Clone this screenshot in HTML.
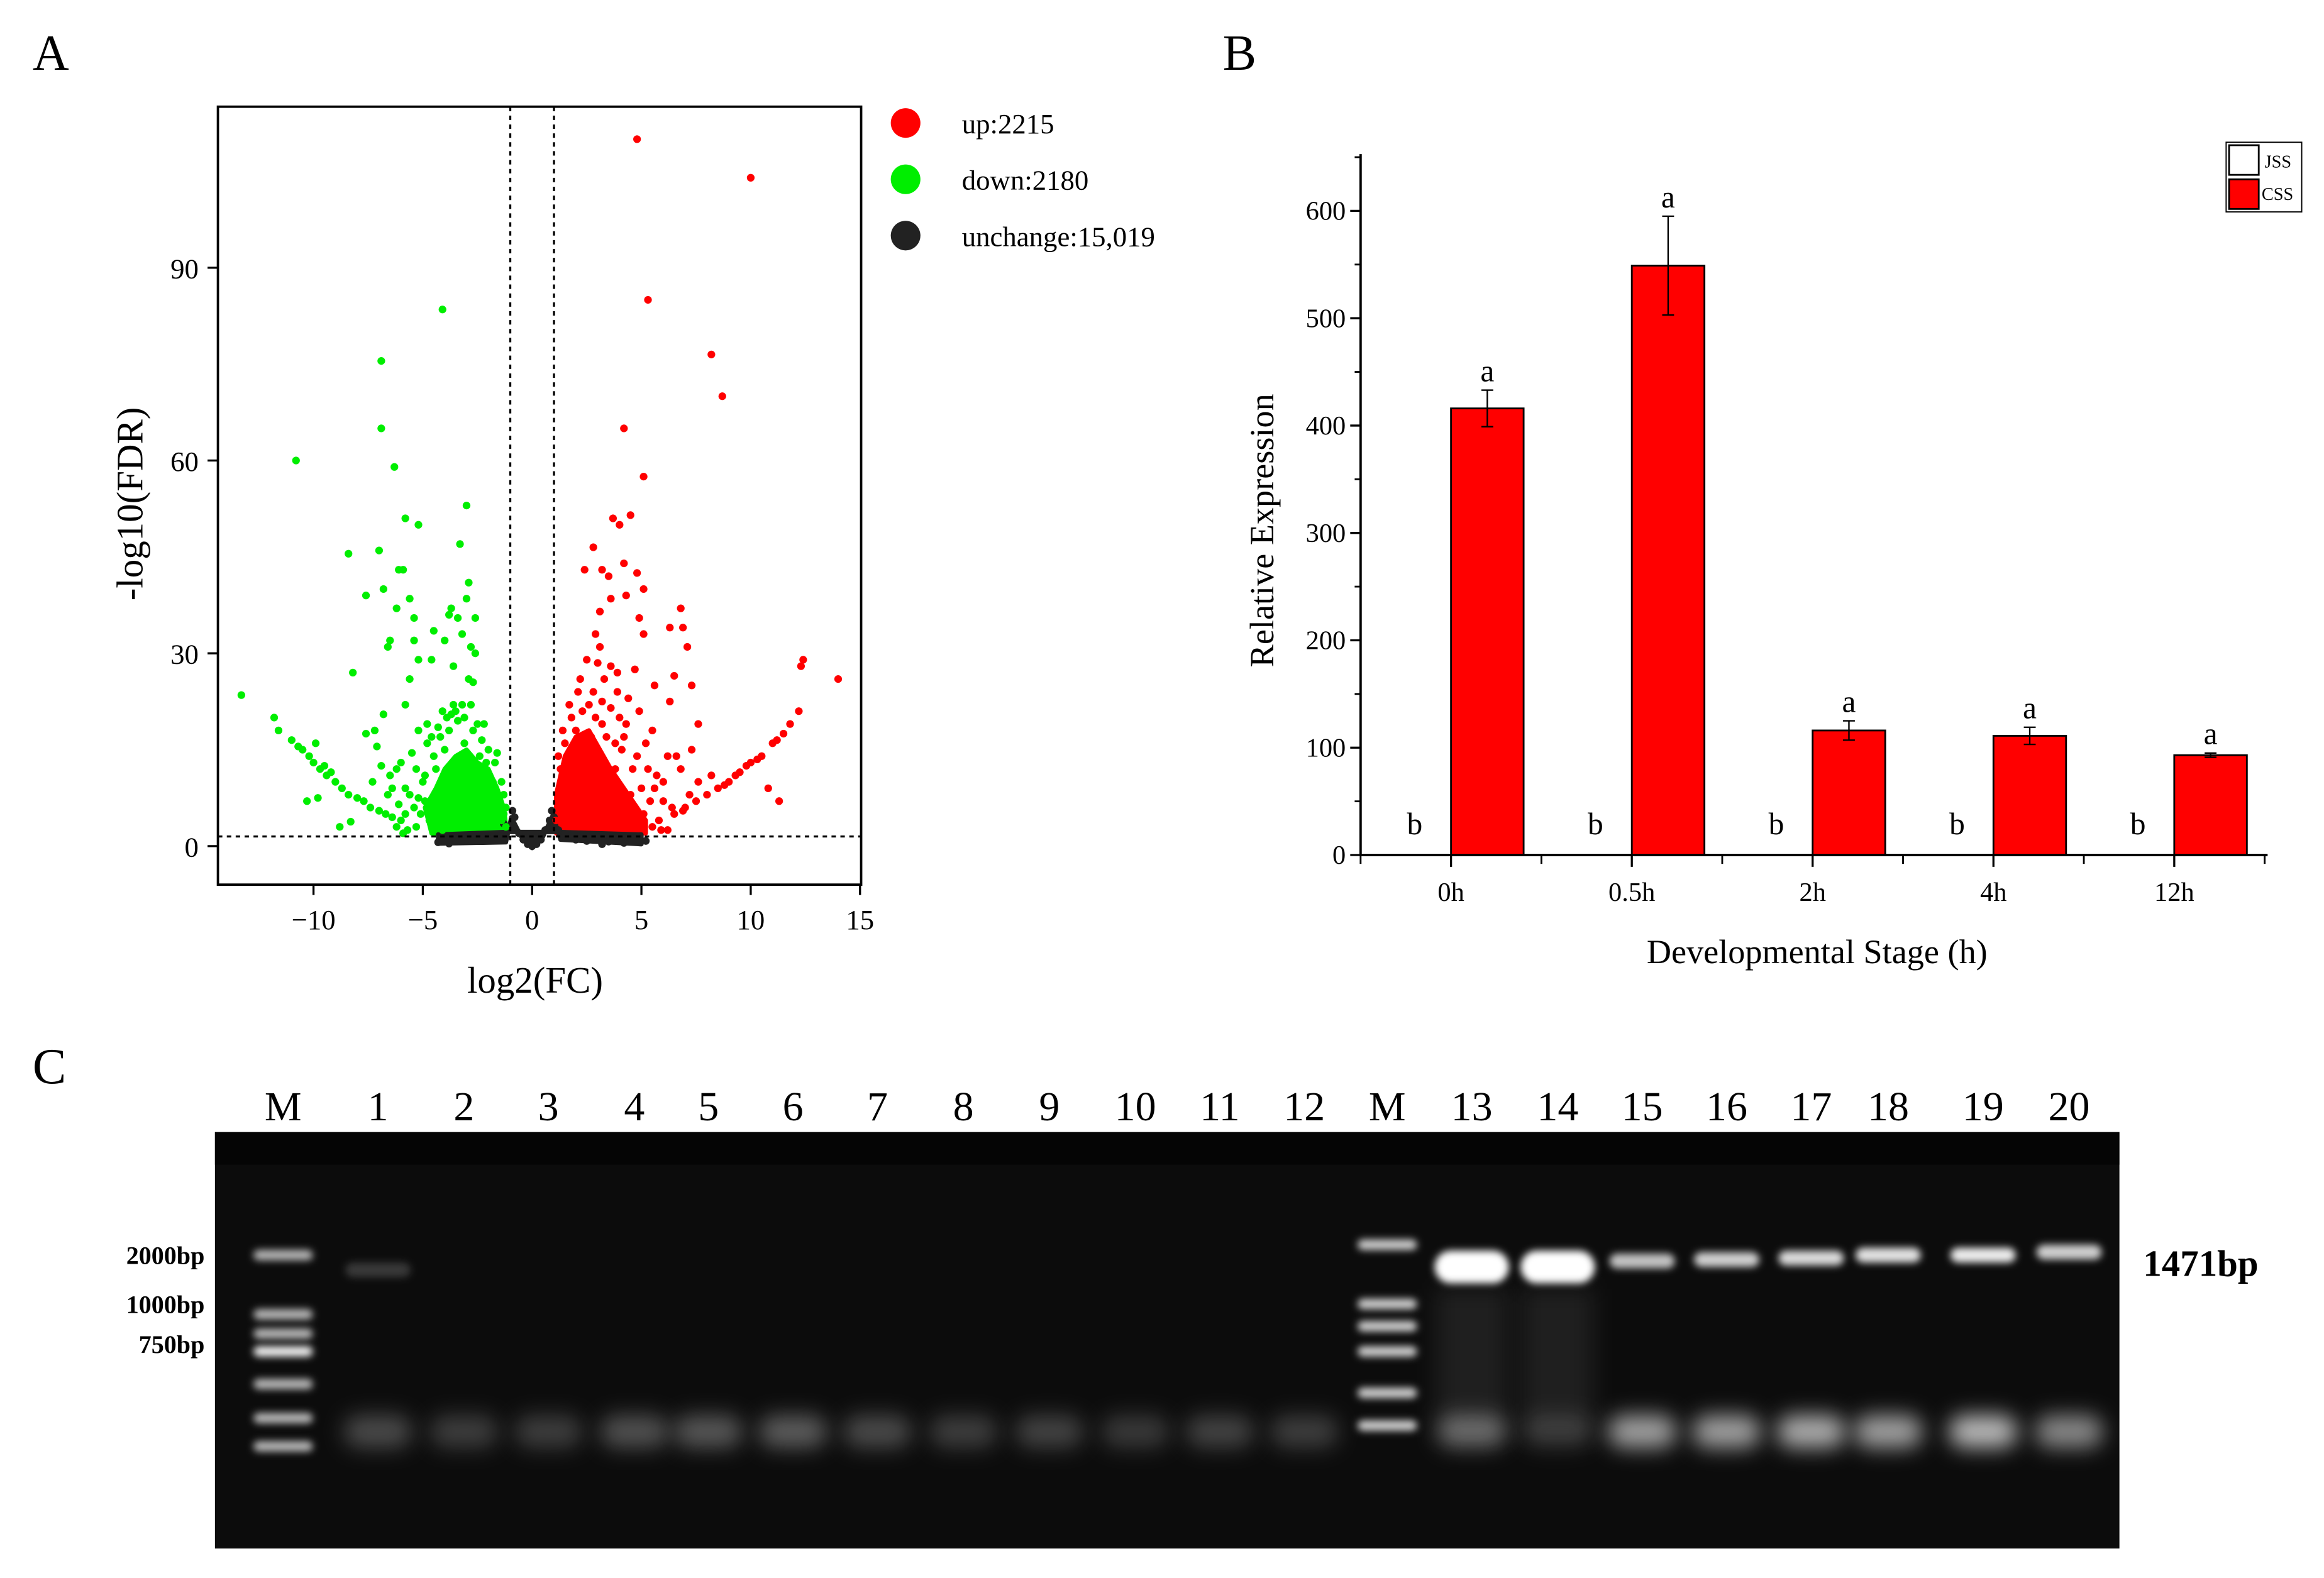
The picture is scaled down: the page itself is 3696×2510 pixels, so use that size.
<!DOCTYPE html>
<html><head><meta charset="utf-8"><style>
html,body{margin:0;padding:0;background:#fff}
svg{display:block}
text{font-family:"Liberation Serif",serif;fill:#000}
</style></head><body>
<svg id="fig" width="3696" height="2510" viewBox="0 0 1568 1064.9" xmlns="http://www.w3.org/2000/svg">
<defs>
<filter id="blur2" x="-50%" y="-100%" width="200%" height="300%"><feGaussianBlur stdDeviation="2.5"/></filter>
<filter id="blur6" x="-50%" y="-100%" width="200%" height="300%"><feGaussianBlur stdDeviation="7"/></filter>
</defs>
<g id="panelA">
<text x="22" y="47" font-size="34">A</text>
<g id="volcPts"></g>
<rect x="147" y="72" width="434" height="525" fill="none" stroke="#000" stroke-width="1.6"/>
<g id="volcAxes"></g>
<text x="361" y="670" font-size="25" text-anchor="middle">log2(FC)</text>
<text transform="translate(96,340) rotate(-90)" font-size="25" text-anchor="middle">-log10(FDR)</text>
<g>
<circle cx="611" cy="83" r="10" fill="#ff0000"/>
<text x="649" y="90" font-size="19">up:2215</text>
<circle cx="611" cy="121" r="10" fill="#00ee00"/>
<text x="649" y="128" font-size="19">down:2180</text>
<circle cx="611" cy="159" r="10" fill="#222"/>
<text x="649" y="166" font-size="19">unchange:15,019</text>
</g>
</g>
<g id="panelB">
<text x="825" y="47" font-size="34">B</text>
<g id="barG"></g>
<text transform="translate(859,358) rotate(-90)" font-size="23" text-anchor="middle">Relative Expression</text>
<text x="1226" y="650" font-size="23" text-anchor="middle">Developmental Stage (h)</text>
<g>
<rect x="1502" y="96" width="51" height="47" fill="#fff" stroke="#000" stroke-width="0.8"/>
<rect x="1504" y="98" width="20" height="20" fill="#fff" stroke="#000" stroke-width="1.2"/>
<text x="1528" y="113" font-size="12">JSS</text>
<rect x="1504" y="121" width="20" height="20" fill="#ff0000" stroke="#000" stroke-width="1.2"/>
<text x="1526" y="135" font-size="12">CSS</text>
</g>
</g>
<g id="panelC">
<text x="22" y="731" font-size="34">C</text>
<rect x="145" y="764" width="1285" height="281" fill="#0c0c0c"/>
<rect x="145" y="764" width="1285" height="22" fill="#050505"/>
<g id="gelBands"></g>
<g id="laneLabels"></g>
<text x="138" y="853" font-size="17" font-weight="bold" text-anchor="end">2000bp</text>
<text x="138" y="886" font-size="17" font-weight="bold" text-anchor="end">1000bp</text>
<text x="138" y="913" font-size="17" font-weight="bold" text-anchor="end">750bp</text>
<text x="1446" y="861" font-size="25" font-weight="bold">1471bp</text>
</g>
</svg>
<script>
const NS='http://www.w3.org/2000/svg';
const downPoints=[[-4.1,83.5],[-6.9,75.5],[-6.9,65],[-6.3,59],[-10.8,60],[-3,53],[-5.8,51],[-5.2,50],[-7,46],[-8.4,45.5],[-6.1,43],[-5.9,43],[-3.3,47],[-2.9,41],[-6.8,40],[-7.6,39],[-5.6,38.5],[-3.0,38.5],[-3.7,37],[-6.2,37],[-3.8,36],[-2.6,35.5],[-3.4,35.5],[-5.4,35.5],[-4.5,33.5],[-3.2,33],[-6.5,32],[-6.6,31],[-4.0,32],[-2.8,31],[-5.4,32],[-2.6,30],[-4.6,29],[-5.2,29],[-3.6,28],[-8.2,27],[-2.9,26],[-5.6,26],[-2.7,25.5],[-13.3,23.5],[-11.8,20],[-11.6,18],[-6.8,20.5],[-5.8,22],[-3.2,22],[-2.8,22],[-3.5,21],[-3.9,20],[-2.5,19],[-11,16.5],[-10.7,15.5],[-10.5,15],[-10.2,14],[-10,13],[-9.7,12],[-9.4,11],[-9,10],[-8.7,9],[-8.4,8],[-8,7.5],[-7.7,7],[-7.4,6],[-7,5.5],[-6.7,5],[-6.4,4.5],[-6,4],[-10.3,7],[-9.8,7.5],[-8.8,3],[-8.3,3.8],[-9.9,16],[-9.5,12.5],[-9.2,11.5],[-7.6,17.5],[-7.2,18],[-7.1,15.5],[-6.9,12.5],[-6.5,11],[-6.2,12],[-6.4,9],[-6,13],[-5.8,9],[-5.5,14.5],[-5.2,18],[-4.8,16],[-4.5,14],[-5,10],[-5.4,6],[-5.9,2],[-5.7,2.5],[-4.9,7],[-4.4,12],[-4.2,17],[-3.8,18],[-3.4,19.5],[-4,15],[-3.1,16],[-2.4,14],[-2.1,13],[-1.8,10],[-1.5,7],[-1.3,5],[-1.2,3],[-4.7,4],[-4.3,6],[-3.9,9],[-3.5,11],[-3,12.5],[-2.7,9],[-2.3,6],[-2,4],[-3.3,3],[-4.1,2.5],[-6.6,8],[-7.3,10],[-6.1,6.5],[-5.3,3],[-5.1,5],[-4.9,11],[-4.6,17],[-4.3,18.5],[-3.7,20.5],[-3.1,20],[-2.7,18],[-2.3,16.5],[-2,15],[-1.7,13],[-1.4,10],[-1.3,8],[-1.6,14.5],[-2.2,19],[-3.6,22],[-4.1,21],[-4.8,19],[-5.3,12],[-5.6,8],[-5.2,7.5],[-5.8,5],[-6.2,3],[-1.2,6],[-1.4,4]];
const upPoints=[[4.8,110],[10,104],[5.3,85],[8.2,76.5],[8.7,70],[4.2,65],[5.1,57.5],[4.5,51.5],[3.7,51],[4.0,50],[2.8,46.5],[4.2,44],[2.4,43],[4.8,42.5],[3.2,43],[3.5,42],[5.1,40],[3.6,38.5],[4.3,39],[3.1,36.5],[6.8,37],[4.9,35.5],[6.3,34],[6.9,34],[5.1,33],[2.9,33],[7.1,31],[3.1,31],[12.4,29],[12.3,28],[14,26],[6.5,26.5],[7.3,25],[5.6,25],[4.7,27.5],[3.6,28],[3.9,27],[2.2,26],[12.2,21],[7.6,19],[6.3,22.5],[10.8,9],[11.3,7],[6.2,14],[6.6,14],[6.0,10],[6.4,6],[5.5,18],[6.5,5],[7,6],[7.5,7],[8,8],[8.5,9],[9,10],[9.5,11.5],[10,13],[10.5,14],[11,16],[11.5,17.5],[11.8,19],[11.2,16.5],[7.2,8],[7.6,10],[8.2,11],[6.9,5.5],[9.3,11],[9.8,12.5],[10.3,13.5],[8.8,9.5],[5.8,4],[5.9,2.5],[5.2,16],[4.9,21],[4.4,23],[3.9,24],[3.3,26],[2.6,22],[2.9,20],[3.4,17],[4.1,15],[4.6,12],[5.0,9],[5.4,7],[4.3,19],[3.0,28.5],[2.5,29],[2.1,24],[1.8,20],[1.5,16],[1.3,12],[1.2,8],[1.1,4],[1.6,6],[2.0,10],[2.4,14],[2.7,17],[3.8,12],[4.5,8],[5.1,5],[6.8,12],[7.3,15],[5.7,11],[3.2,22.5],[4.0,20],[1.2,14],[1.4,18],[1.7,22],[2.3,21],[3.6,21.5],[4.2,17],[4.8,14],[5.3,12],[5.6,9],[6,7],[5.5,3],[6.2,2.5],[4.9,3],[3.8,16],[3.2,19],[2.8,24],[2.0,18]];
const unchPoints=[[-4,1],[-3.5,1.5],[-3,1],[-2.5,0.8],[-2,1.2],[-1.5,1.6],[-1.2,2],[-1,3],[-0.8,4.5],[-0.6,2],[-0.4,1],[-0.2,0.3],[0,0],[0.2,0.3],[0.4,1],[0.6,2.5],[0.8,4],[1,4.5],[1.5,1.5],[2,1],[2.5,0.8],[3,1.2],[3.5,0.7],[4,1],[4.5,1.2],[4.9,1],[-4.3,0.6],[-3.8,0.4],[3.2,0.3],[1.2,2.5],[-1.3,3.5],[-0.9,5.5],[0.9,5.5],[4.2,0.5],[5.2,0.8]];
const volcXTicks=[-10,-5,0,5,10,15];
const volcXTickLabels=['\u221210','\u22125','0','5','10','15'];
const volcYTicks=[0,30,60,90];
const volcYTickLabels=['0','30','60','90'];
const fcCut=1, fdrCut=1.5;
const vx=v=>359+v*14.75;
const vy=v=>571-v*4.337;
function mk(tag,attrs,parent){const e=document.createElementNS(NS,tag);for(const k in attrs)e.setAttribute(k,attrs[k]);parent.appendChild(e);return e;}
const vp=document.getElementById('volcPts');
function core(pts,fill,name){const e=mk('polygon',{points:pts.map(p=>vx(p[0])+','+vy(p[1])).join(' '),fill:fill,stroke:fill,'stroke-width':3,'stroke-linejoin':'round'},vp);}
core([[-4.6,2],[-4.9,6],[-4.4,9],[-4,12],[-3.5,14],[-3,15],[-2.5,13],[-2,12],[-1.6,9],[-1.3,6],[-1.15,2]],'#00ee00','down-density-core');
core([[1.1,2],[1.1,8],[1.5,14],[2,17],[2.6,18],[3.1,15],[3.6,12],[4.2,9],[4.8,6],[5.2,4],[5.2,2]],'#ff0000','up-density-core');
core([[-4.3,0.4],[-1.2,0.6],[-0.95,4.5],[-0.5,1.5],[0,-0.3],[0.5,1.5],[0.95,4.8],[1.3,1],[5,0.3],[5,1.8],[1.2,2.2],[-1.2,2.2],[-4.3,1.8]],'#222','unchanged-density-core');
function dots(arr,fill,name){arr.forEach(p=>{const c=mk('circle',{cx:vx(p[0]),cy:vy(p[1]),r:2.6,fill:fill},vp);});}
dots(unchPoints,'#222','unchanged-point');
dots(downPoints,'#00ee00','down-point');
dots(upPoints,'#ff0000','up-point');
const va=document.getElementById('volcAxes');
[['line',{x1:vx(-fcCut),x2:vx(-fcCut),y1:72,y2:597}],['line',{x1:vx(fcCut),x2:vx(fcCut),y1:72,y2:597}],['line',{x1:147,x2:581,y1:vy(fdrCut),y2:vy(fdrCut)}]].forEach((d,i)=>{const e=mk(d[0],Object.assign({stroke:'#000','stroke-width':1.4,'stroke-dasharray':'3,3'},d[1]),va);});
volcXTicks.forEach((t,i)=>{const x=vx(t);const l=mk('line',{x1:x,x2:x,y1:597,y2:604,stroke:'#000','stroke-width':1.4},va);
const tx=mk('text',{x:x,y:627,'font-size':19,'text-anchor':'middle'},va);tx.textContent=volcXTickLabels[i];});
volcYTicks.forEach((t,i)=>{const y=vy(t);const l=mk('line',{x1:140,x2:147,y1:y,y2:y,stroke:'#000','stroke-width':1.4},va);
const tx=mk('text',{x:134,y:y+7,'font-size':19,'text-anchor':'end'},va);tx.textContent=volcYTickLabels[i];});

const stages=['0h','0.5h','2h','4h','12h'];
const jssValues=[0,0,0,0,0];
const cssValues=[416,549,116,111,93];
const cssErrors=[17,46,9,8,2];
const jssLetters=['b','b','b','b','b'];
const cssLetters=['a','a','a','a','a'];
const barYTicks=[0,100,200,300,400,500,600];
const bx0=918, bx1=1530, groupW=122, barW=49;
const by=v=>577-v*0.7245;
const bg=document.getElementById('barG');
stages.forEach((s,i)=>{const c=bx0+groupW*(i+0.5);
const j=mk('rect',{x:c-barW,y:by(jssValues[i]),width:barW,height:577-by(jssValues[i]),fill:'#fff',stroke:'#000','stroke-width':1},bg);
const r=mk('rect',{x:c,y:by(cssValues[i]),width:barW,height:577-by(cssValues[i]),fill:'#ff0000',stroke:'#000','stroke-width':1.2},bg);
const ex=c+barW/2, top=by(cssValues[i]+cssErrors[i]), bot=by(cssValues[i]-cssErrors[i]);
const eb=mk('path',{d:`M${ex-4},${top}H${ex+4}M${ex},${top}V${bot}M${ex-4},${bot}H${ex+4}`,stroke:'#000','stroke-width':1,fill:'none'},bg);
const la=mk('text',{x:ex,y:top-6,'font-size':21,'text-anchor':'middle'},bg);la.textContent=cssLetters[i];
const lb=mk('text',{x:c-barW/2,y:by(jssValues[i])-14,'font-size':21,'text-anchor':'middle'},bg);lb.textContent=jssLetters[i];
const tk=mk('line',{x1:c,x2:c,y1:577,y2:585,stroke:'#000','stroke-width':1.4},bg);
const tl=mk('text',{x:c,y:608,'font-size':18,'text-anchor':'middle'},bg);tl.textContent=s;
});
for(let i=0;i<=stages.length;i++){const x=bx0+groupW*i;const m=mk('line',{x1:x,x2:x,y1:577,y2:583,stroke:'#000','stroke-width':1.2},bg);}
const ax=mk('path',{d:`M${bx0},104V577H${bx1}`,stroke:'#000','stroke-width':1.6,fill:'none'},bg);
barYTicks.forEach(t=>{const y=by(t);const l=mk('line',{x1:bx0-7,x2:bx0,y1:y,y2:y,stroke:'#000','stroke-width':1.4},bg);
const m=mk('line',{x1:bx0-4,x2:bx0,y1:by(t+50),y2:by(t+50),stroke:'#000','stroke-width':1.2},bg);
const tx=mk('text',{x:bx0-10,y:y+6,'font-size':18,'text-anchor':'end'},bg);tx.textContent=String(t);});

const laneNames=['M','1','2','3','4','5','6','7','8','9','10','11','12','M','13','14','15','16','17','18','19','20'];
const laneX=[191,255,313,370,428,478,535,592,650,708,766,823,880,936,993,1051,1108,1165,1222,1274,1338,1396];
const mainBandY=[0,857,0,0,0,0,0,0,0,0,0,0,0,0,855,855,851,850,849,847,847,845];
const mainBandIntensity=[0,0.18,0,0,0,0,0,0,0,0,0,0,0,0,1,1,0.75,0.8,0.85,0.88,0.92,0.8];
const lowBandIntensity=[0,0.25,0.2,0.2,0.28,0.3,0.32,0.25,0.2,0.22,0.18,0.22,0.2,0,0.35,0.15,0.6,0.6,0.65,0.6,0.7,0.5];
const ladderLeft=[847,887,900,912,934,957,976];
const ladderRight=[840,880,895,912,940,962];
const gb=document.getElementById('gelBands');
const ll=document.getElementById('laneLabels');
function band(x,y,w,h,op,blur,name){const e=mk('rect',{x:x-w/2,y:y-h/2,width:w,height:h,rx:h/2,fill:'#fff','fill-opacity':op,filter:'url(#'+blur+')'},gb);}
laneNames.forEach((n,i)=>{const x=laneX[i];
const t=mk('text',{x:x,y:756,'font-size':28,'text-anchor':'middle'},ll);t.textContent=n;
if(mainBandIntensity[i]>0){const big=mainBandIntensity[i]>=1;band(x,mainBandY[i],big?50:44,big?22:10,mainBandIntensity[i],'blur2','product-band');}
if(lowBandIntensity[i]>0)band(x,966,46,22,lowBandIntensity[i],'blur6','primer-band');
});
[13,14].forEach(i=>{const e=mk('rect',{x:laneX[i+1]-24,y:870,width:48,height:100,fill:'#fff','fill-opacity':0.08,filter:'url(#blur6)'},gb);});
ladderLeft.forEach((y,k)=>band(laneX[0],y,40,7,k==3?0.95:0.7,'blur2','ladder-band'));
ladderRight.forEach((y,k)=>band(laneX[13],y,40,7,0.8,'blur2','ladder-band'));
</script>
</body></html>
